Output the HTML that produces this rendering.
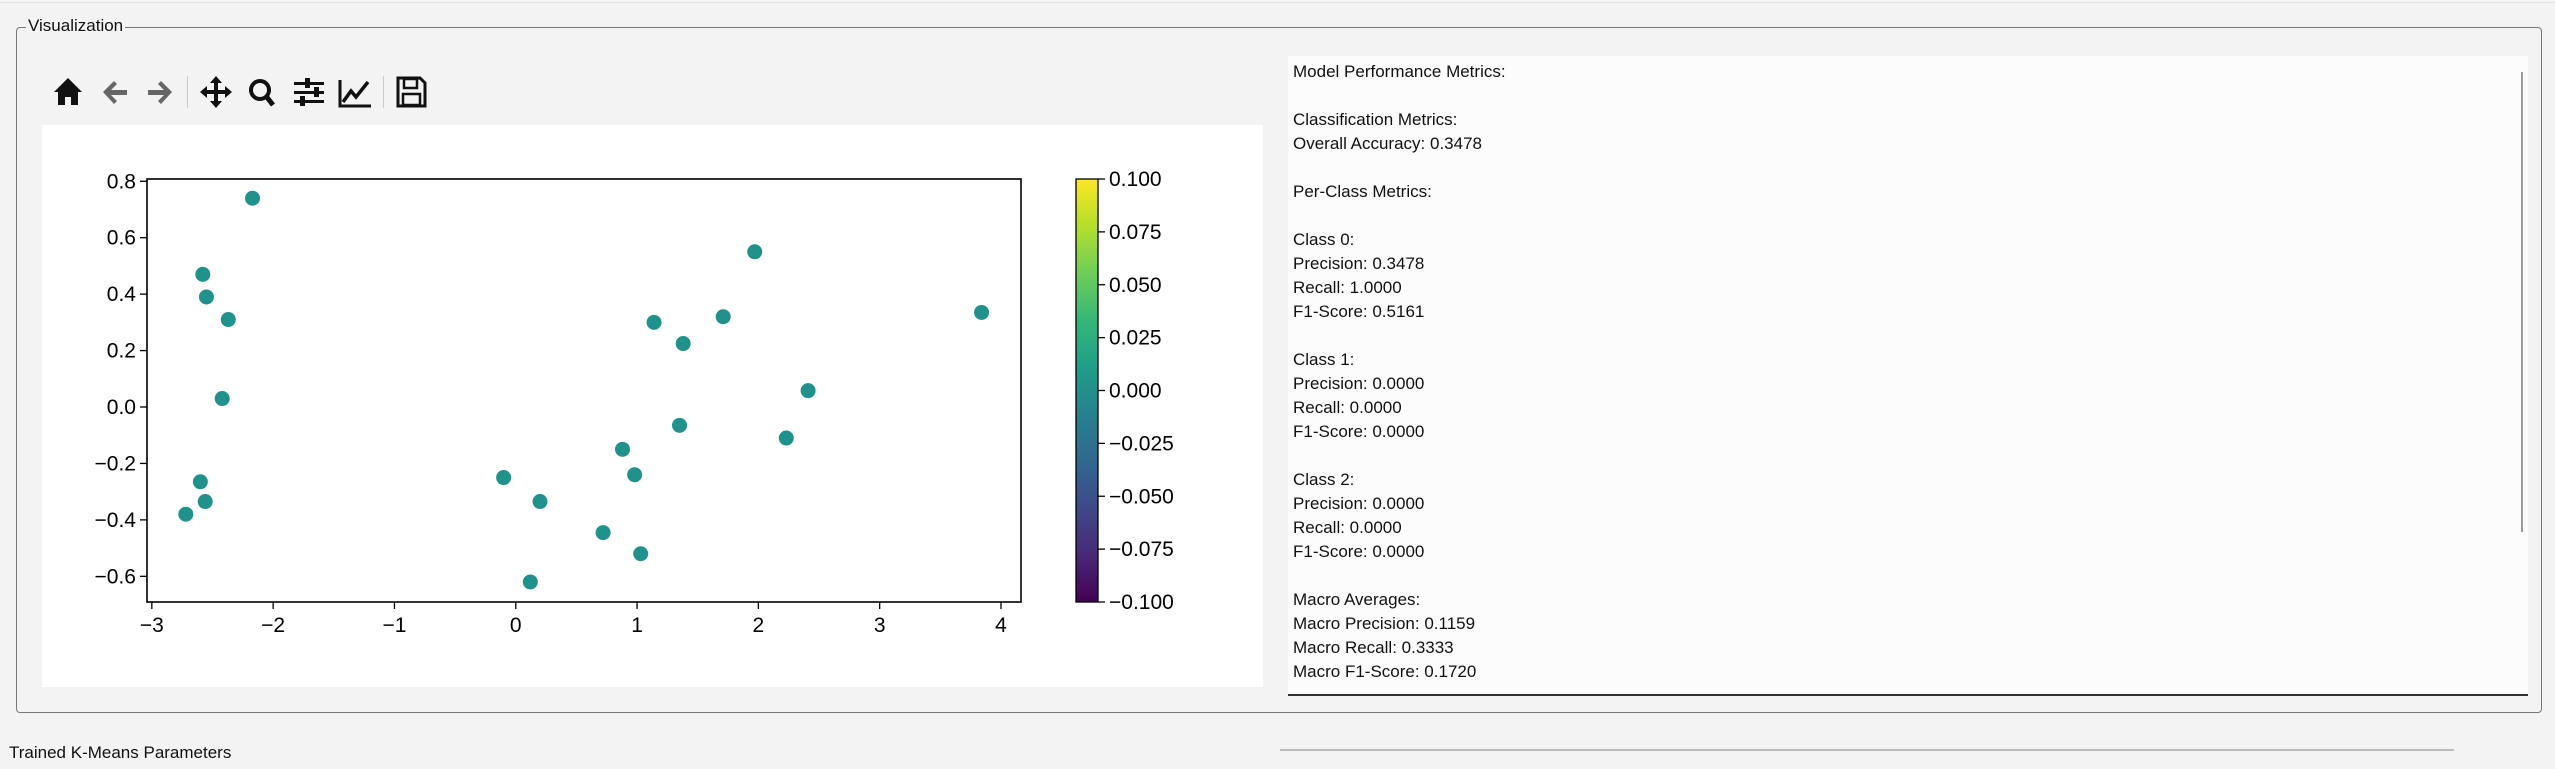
<!DOCTYPE html>
<html><head><meta charset="utf-8">
<style>
body{margin:0;width:2555px;height:769px;background:#f3f3f3;font-family:"Liberation Sans",sans-serif;position:relative;overflow:hidden}
.abs{position:absolute}
#metrics div{height:24px;line-height:24px;font-size:17px;color:#111;white-space:pre}
</style></head>
<body>
<div class="abs" style="left:0;top:2px;width:2555px;height:1px;background:#e4e4e4"></div>
<div class="abs" style="left:16px;top:27px;width:2526px;height:686px;border:1.5px solid #777;border-radius:4px;box-sizing:border-box"></div>
<div class="abs" style="left:26px;top:16px;background:#f3f3f3;padding:0 2px;font-size:17px;color:#111">Visualization</div>

<svg class="abs" style="left:50px;top:72px" width="390" height="42" viewBox="50 72 390 42">
<g><path d="M54 92 L68 78 L82 92 L78 92 L78 105 L71 105 L71 97 L65 97 L65 105 L58 105 L58 92Z" fill="#111"/></g>
<g><path d="M103 92 L114 81 L117 84 L111 90 L127 90 L127 95 L111 95 L117 101 L114 104Z" fill="#666"/></g>
<g><path d="M172 92 L161 81 L158 84 L164 90 L148 90 L148 95 L164 95 L158 101 L161 104Z" fill="#666"/></g>
<rect x="187" y="76" width="1" height="32" fill="#ccc"/>
<g><path d="M216 76 L222 83 L218 83 L218 90 L225 90 L225 86 L232 92 L225 98 L225 94 L218 94 L218 101 L222 101 L216 108 L210 101 L214 101 L214 94 L207 94 L207 98 L200 92 L207 86 L207 90 L214 90 L214 83 L210 83Z" fill="#111"/></g>
<g><circle cx="260" cy="90" r="9" fill="none" stroke="#111" stroke-width="4"/><path d="M266 96 L273 105" stroke="#111" stroke-width="5"/></g>
<g fill="#111"><rect x="294" y="82" width="30" height="3"/><rect x="294" y="91" width="30" height="3"/><rect x="294" y="100" width="30" height="3"/><rect x="305" y="78" width="5" height="10"/><rect x="314" y="87" width="5" height="10"/><rect x="300" y="96" width="5" height="10"/></g>
<g><path d="M340 80 L340 106 L371 106" fill="none" stroke="#111" stroke-width="3"/><path d="M343 102 L351 91 L356 97 L368 82" fill="none" stroke="#111" stroke-width="3.5"/></g>
<rect x="383" y="76" width="1" height="32" fill="#ccc"/>
<g><path d="M398 78 L420 78 L425 83 L425 106 L398 106Z" fill="none" stroke="#111" stroke-width="3"/><rect x="404" y="79" width="13" height="9" fill="none" stroke="#111" stroke-width="2.5"/><rect x="403" y="94" width="17" height="11" fill="none" stroke="#111" stroke-width="2.5"/></g>
</svg>

<svg id="chart" class="abs" style="left:42px;top:125px" width="1221" height="562" viewBox="42 125 1221 562">
<rect x="42" y="125" width="1221" height="562" fill="#fff"/>
<g id="marks"></g>
<g id="axes"></g>
</svg>

<div id="metrics" class="abs" style="left:1288px;top:56px;width:1240px;height:640px;background:#fcfcfc;border-bottom:2px solid #333;box-sizing:border-box;padding:4px 0 0 5px">
<div>Model Performance Metrics:</div><div></div>
<div>Classification Metrics:</div><div>Overall Accuracy: 0.3478</div><div></div>
<div>Per-Class Metrics:</div><div></div>
<div>Class 0:</div><div>Precision: 0.3478</div><div>Recall: 1.0000</div><div>F1-Score: 0.5161</div><div></div>
<div>Class 1:</div><div>Precision: 0.0000</div><div>Recall: 0.0000</div><div>F1-Score: 0.0000</div><div></div>
<div>Class 2:</div><div>Precision: 0.0000</div><div>Recall: 0.0000</div><div>F1-Score: 0.0000</div><div></div>
<div>Macro Averages:</div><div>Macro Precision: 0.1159</div><div>Macro Recall: 0.3333</div><div>Macro F1-Score: 0.1720</div>
</div>
<div class="abs" style="left:2521px;top:72px;width:2px;height:460px;background:#999"></div>

<div class="abs" style="left:9px;top:743px;font-size:17px;color:#111">Trained K-Means Parameters</div>
<div class="abs" style="left:1280px;top:749px;width:1174px;height:2px;background:#bbb"></div>

<script>
const xs=[-2.17,-2.58,-2.55,-2.37,-2.42,-2.6,-2.56,-2.72,-0.1,0.2,0.12,0.72,0.88,0.98,1.03,1.35,1.14,1.38,1.71,1.97,2.23,2.41,3.84];
const ys=[0.74,0.47,0.39,0.31,0.03,-0.265,-0.335,-0.38,-0.25,-0.335,-0.62,-0.445,-0.15,-0.24,-0.52,-0.065,0.3,0.225,0.32,0.55,-0.11,0.058,0.335];
const xTicks=[-3,-2,-1,0,1,2,3,4];
const xTickLabels=["\u22123","\u22122","\u22121","0","1","2","3","4"];
const yTicks=[0.8,0.6,0.4,0.2,0.0,-0.2,-0.4,-0.6];
const yTickLabels=["0.8","0.6","0.4","0.2","0.0","\u22120.2","\u22120.4","\u22120.6"];
const cbTicks=[0.1,0.075,0.05,0.025,0,-0.025,-0.05,-0.075,-0.1];
const cbTickLabels=["0.100","0.075","0.050","0.025","0.000","\u22120.025","\u22120.050","\u22120.075","\u22120.100"];

const NS="http://www.w3.org/2000/svg";
const L=147,R=1021,T=179,B=602;
const xMin=-3.04,xMax=4.165,yMin=-0.691,yMax=0.808;
const sx=v=>L+(v-xMin)/(xMax-xMin)*(R-L);
const sy=v=>B-(v-yMin)/(yMax-yMin)*(B-T);
const CL=1076,CR=1098;
const cy=v=>B-(v+0.1)/0.2*(B-T);
function mk(t,a,p){const e=document.createElementNS(NS,t);for(const k in a)e.setAttribute(k,a[k]);p.appendChild(e);return e;}
const marks=document.getElementById('marks'),axes=document.getElementById('axes');
xs.forEach((x,i)=>{
  const c=mk('circle',{cx:sx(x),cy:sy(ys[i]),r:7.5,fill:'#21918c'},marks);
  
  
});
const f=mk('rect',{x:L,y:T,width:R-L,height:B-T,fill:'none',stroke:'#000','stroke-width':1.6},axes);


xTicks.forEach((v,i)=>{
  const x=sx(v);
  mk('line',{x1:x,x2:x,y1:B,y2:B+7,stroke:'#000','stroke-width':1.3},axes);
  const t=mk('text',{x:x,y:B+30,'text-anchor':'middle','font-size':21,'font-family':'Liberation Sans, sans-serif'},axes);
  t.textContent=xTickLabels[i];
  
  
});
yTicks.forEach((v,i)=>{
  const y=sy(v);
  mk('line',{x1:L-7,x2:L,y1:y,y2:y,stroke:'#000','stroke-width':1.3},axes);
  const t=mk('text',{x:L-11,y:y+7,'text-anchor':'end','font-size':21,'font-family':'Liberation Sans, sans-serif'},axes);
  t.textContent=yTickLabels[i];
  
  
});
const defs=mk('defs',{},axes);
const g=mk('linearGradient',{id:'vir',x1:0,y1:1,x2:0,y2:0},defs);
['#440154','#482878','#3e4989','#31688e','#26828e','#1f9e89','#35b779','#6ece58','#b5de2b','#fde725'].forEach((c,i,a)=>mk('stop',{offset:i/(a.length-1),'stop-color':c},g));
const cb=mk('rect',{x:CL,y:T,width:CR-CL,height:B-T,fill:'url(#vir)',stroke:'#000','stroke-width':1.3},axes);


cbTicks.forEach((v,i)=>{
  const y=cy(v);
  mk('line',{x1:CR,x2:CR+7,y1:y,y2:y,stroke:'#000','stroke-width':1.3},axes);
  const t=mk('text',{x:CR+11,y:y+7,'font-size':21,'font-family':'Liberation Sans, sans-serif'},axes);
  t.textContent=cbTickLabels[i];
  
  
});
</script>
</body></html>
